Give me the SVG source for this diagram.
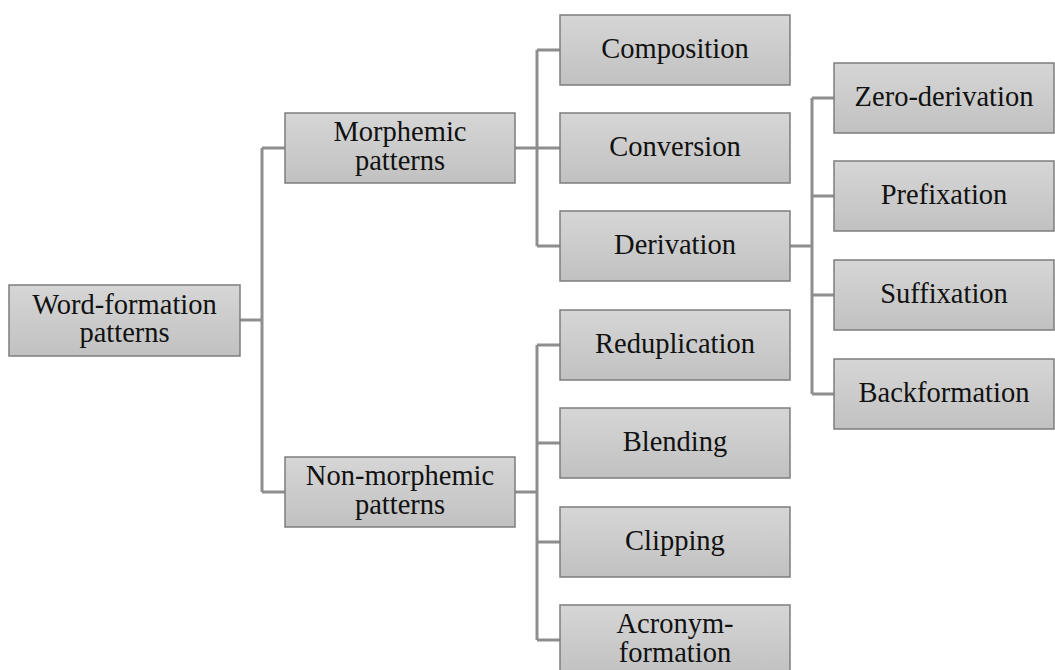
<svg xmlns="http://www.w3.org/2000/svg" width="1055" height="670" viewBox="0 0 1055 670">
<defs>
<linearGradient id="g" x1="0" y1="0" x2="0" y2="1">
<stop offset="0" stop-color="#d6d6d6"/>
<stop offset="1" stop-color="#c1c1c1"/>
</linearGradient>
<style>
.box{fill:url(#g);stroke:#7d7d7d;stroke-width:1.5}
.t{font-family:"Liberation Serif","DejaVu Serif",serif;font-size:28.5px;fill:#111;text-anchor:middle}
.c{fill:none;stroke:#8e8e8e;stroke-width:3}
</style>
</defs>
<rect width="1055" height="670" fill="#fff"/>
<g id="connectors" class="c">
<path d="M240,320 H262 M262,148 V492 M262,148 H285 M262,492 H285"/>
<path d="M515,148 H537 M537,50 V246 M537,50 H560 M537,148 H560 M537,246 H560"/>
<path d="M515,492 H537 M537,345 V640 M537,345 H560 M537,443 H560 M537,542 H560 M537,640 H560"/>
<path d="M790,246 H812 M812,98 V394 M812,98 H834 M812,196 H834 M812,295 H834 M812,394 H834"/>
</g>
<g id="root"><rect class="box" x="9" y="285" width="231" height="71"/><text class="t" x="124.5" y="314">Word-formation</text><text class="t" x="124.5" y="342">patterns</text></g>
<g id="morphemic"><rect class="box" x="285" y="113" width="230" height="70"/><text class="t" x="400" y="141">Morphemic</text><text class="t" x="400" y="170">patterns</text></g>
<g id="nonmorphemic"><rect class="box" x="285" y="457" width="230" height="70"/><text class="t" x="400" y="485">Non-morphemic</text><text class="t" x="400" y="514">patterns</text></g>
<g id="composition"><rect class="box" x="560" y="15" width="230" height="70"/><text class="t" x="675" y="58">Composition</text></g>
<g id="conversion"><rect class="box" x="560" y="113" width="230" height="70"/><text class="t" x="675" y="156">Conversion</text></g>
<g id="derivation"><rect class="box" x="560" y="211" width="230" height="70"/><text class="t" x="675" y="254">Derivation</text></g>
<g id="reduplication"><rect class="box" x="560" y="310" width="230" height="70"/><text class="t" x="675" y="353">Reduplication</text></g>
<g id="blending"><rect class="box" x="560" y="408" width="230" height="70"/><text class="t" x="675" y="451">Blending</text></g>
<g id="clipping"><rect class="box" x="560" y="507" width="230" height="70"/><text class="t" x="675" y="550">Clipping</text></g>
<g id="acronym"><rect class="box" x="560" y="605" width="230" height="70"/><text class="t" x="675" y="633">Acronym-</text><text class="t" x="675" y="662">formation</text></g>
<g id="zeroderivation"><rect class="box" x="834" y="63" width="220" height="70"/><text class="t" x="944" y="106">Zero-derivation</text></g>
<g id="prefixation"><rect class="box" x="834" y="161" width="220" height="70"/><text class="t" x="944" y="204">Prefixation</text></g>
<g id="suffixation"><rect class="box" x="834" y="260" width="220" height="70"/><text class="t" x="944" y="303">Suffixation</text></g>
<g id="backformation"><rect class="box" x="834" y="359" width="220" height="70"/><text class="t" x="944" y="402">Backformation</text></g>
</svg>
